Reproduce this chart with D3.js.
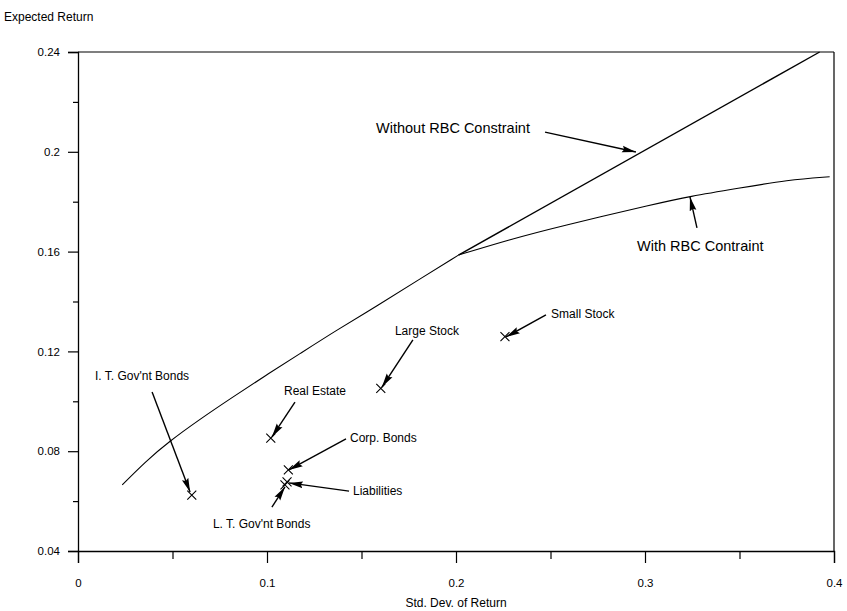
<!DOCTYPE html>
<html><head><meta charset="utf-8">
<script src="https://cdn.jsdelivr.net/npm/d3@7"></script>
<style>
html,body{margin:0;padding:0;background:#fff;}
text{font-family:"Liberation Sans",Arial,sans-serif;fill:#000;}
</style></head>
<body>
<svg id="chart" width="847" height="611"></svg>
<script>
// ---- data ----
const xTicks = [0, 0.1, 0.2, 0.3, 0.4];
const xTickLabels = ["0", "0.1", "0.2", "0.3", "0.4"];
const xMinorTicks = [0.05, 0.15, 0.25, 0.35];
const yTicks = [0.04, 0.08, 0.12, 0.16, 0.2, 0.24];
const yTickLabels = ["0.04", "0.08", "0.12", "0.16", "0.2", "0.24"];
const yMinorTicks = [0.06, 0.1, 0.14, 0.18, 0.22];

// efficient frontier (shared part), std dev / expected return
const frontier = [[0.0234,0.0665],[0.0362,0.0762],[0.0481,0.0838],[0.0639,0.0925],[0.0815,0.1015],[0.0992,0.1103],
  [0.1168,0.1188],[0.137,0.1286],[0.159,0.1386],[0.1802,0.1487],[0.2013,0.1586]];
const withoutRBC = [[0.2013,0.1586],[0.3924,0.24]];
const withRBC = [[0.2013,0.1586],[0.2277,0.1647],[0.2542,0.170],[0.307,0.1794],[0.3229,0.182],
  [0.3493,0.1854],[0.3757,0.1887],[0.3977,0.19]];

const assetNames = ["I. T. Gov'nt Bonds","Real Estate","Corp. Bonds","Liabilities","L. T. Gov'nt Bonds","Large Stock","Small Stock"];
const assetSD  = [0.0602, 0.102, 0.1113, 0.1106, 0.1095, 0.1602, 0.2259];
const assetRet = [0.0624, 0.0852, 0.0725, 0.0677, 0.0665, 0.1052, 0.1259];

// annotations: label, label anchor (x,y), arrow from (x,y) to (x,y), size
const annLabels = ["Without RBC Constraint","With RBC Contraint","Small Stock","Large Stock","Real Estate",
  "Corp. Bonds","Liabilities","L. T. Gov'nt Bonds","I. T. Gov'nt Bonds"];
const annTextX = [0.1577,0.2958,0.2503,0.1677,0.109,0.1439,0.1455,0.0714,0.009];
const annTextY = [0.2095,0.1622,0.135,0.1282,0.1041,0.0853,0.064,0.0508,0.1101];
const annFrom  = [[0.2471,0.2079],[0.3275,0.1695],[0.2476,0.1346],[0.1772,0.1246],[0.1148,0.0997],
  [0.1418,0.0849],[0.1434,0.064],[0.1026,0.0576],[0.0392,0.1037]];
const annTo    = [[0.2952,0.1999],[0.3238,0.1819],[0.2265,0.1258],[0.1608,0.1057],[0.1026,0.0857],
  [0.1116,0.0725],[0.1116,0.0673],[0.1095,0.0657],[0.0593,0.0636]];
const annBig   = [true,true,false,false,false,false,false,false,false];

// ---- drawing ----
const svg = d3.select("#chart");
const x = d3.scaleLinear().domain([0,0.4]).range([78,834]);
const y = d3.scaleLinear().domain([0.04,0.24]).range([551,52]);

svg.append("defs").append("marker")
  .attr("id","ah").attr("viewBox","0 0 14 8").attr("refX",14).attr("refY",4)
  .attr("markerWidth",14).attr("markerHeight",8).attr("markerUnits","userSpaceOnUse")
  .attr("orient","auto")
  .append("path").attr("d","M0,0.6 L14,4 L0,7.4 L2,4 Z").attr("fill","#000");

// frame
svg.append("line").attr("x1",x(0)).attr("x2",x(0.4)).attr("y1",y(0.24)).attr("y2",y(0.24)).attr("stroke","#000").attr("stroke-width",1.2);
svg.append("line").attr("x1",x(0.4)).attr("x2",x(0.4)).attr("y1",y(0.24)).attr("y2",y(0.04)).attr("stroke","#000").attr("stroke-width",1.2);

// axes
svg.append("g").attr("transform",`translate(0,${y(0.04)})`)
  .call(d3.axisBottom(x).tickValues(xTicks).tickSize(12).tickPadding(16)
    .tickFormat((d,i)=>xTickLabels[i]));
svg.append("g").attr("transform",`translate(0,${y(0.04)})`)
  .call(d3.axisBottom(x).tickValues(xMinorTicks).tickSize(8).tickFormat(""))
  .select(".domain").remove();
svg.append("g").attr("transform",`translate(${x(0)},0)`)
  .call(d3.axisLeft(y).tickValues(yTicks).tickSize(10).tickPadding(8)
    .tickFormat((d,i)=>yTickLabels[i]));
svg.append("g").attr("transform",`translate(${x(0)},0)`)
  .call(d3.axisLeft(y).tickValues(yMinorTicks).tickSize(5).tickFormat(""))
  .select(".domain").remove();
svg.selectAll(".domain").attr("stroke","#000").attr("stroke-width",1.3);
svg.selectAll(".tick line").attr("stroke","#000").attr("stroke-width",1.2);
svg.selectAll(".tick text").style("font-family","'Liberation Sans',Arial,sans-serif").style("font-size","11.5px").attr("fill","#000");

// axis titles
svg.append("text").attr("x",4).attr("y",21).style("font-size","12px").text("Expected Return");
svg.append("text").attr("x",(x(0)+x(0.4))/2).attr("y",607).attr("text-anchor","middle").style("font-size","12px").text("Std. Dev. of Return");

// curves
const smooth = d3.line().x(d=>x(d[0])).y(d=>y(d[1])).curve(d3.curveBasis);
const straight = d3.line().x(d=>x(d[0])).y(d=>y(d[1]));
svg.append("path").datum(frontier).attr("d",smooth).attr("fill","none").attr("stroke","#000").attr("stroke-width",1.1);
svg.append("path").datum(withoutRBC).attr("d",straight).attr("fill","none").attr("stroke","#000").attr("stroke-width",1.4);
svg.append("path").datum(withRBC).attr("d",smooth).attr("fill","none").attr("stroke","#000").attr("stroke-width",1.1);

// asset markers (x)
const s = 4.5;
svg.append("g").selectAll("path").data(assetNames).join("path")
  .attr("d",(d,i)=>{const cx=x(assetSD[i]), cy=y(assetRet[i]);
    return `M${cx-s},${cy-s}L${cx+s},${cy+s}M${cx-s},${cy+s}L${cx+s},${cy-s}`;})
  .attr("stroke","#000").attr("stroke-width",1.1).attr("fill","none");

// annotations
const ann = svg.append("g");
annLabels.forEach((lab,i)=>{
  ann.append("line").attr("x1",x(annFrom[i][0])).attr("y1",y(annFrom[i][1]))
    .attr("x2",x(annTo[i][0])).attr("y2",y(annTo[i][1]))
    .attr("stroke","#000").attr("stroke-width",1.4).attr("marker-end","url(#ah)");
  ann.append("text").attr("x",x(annTextX[i])).attr("y",y(annTextY[i]))
    .attr("dominant-baseline","central")
    .style("font-size", annBig[i] ? "14.5px" : "12px").text(lab);
});
</script>
</body></html>
